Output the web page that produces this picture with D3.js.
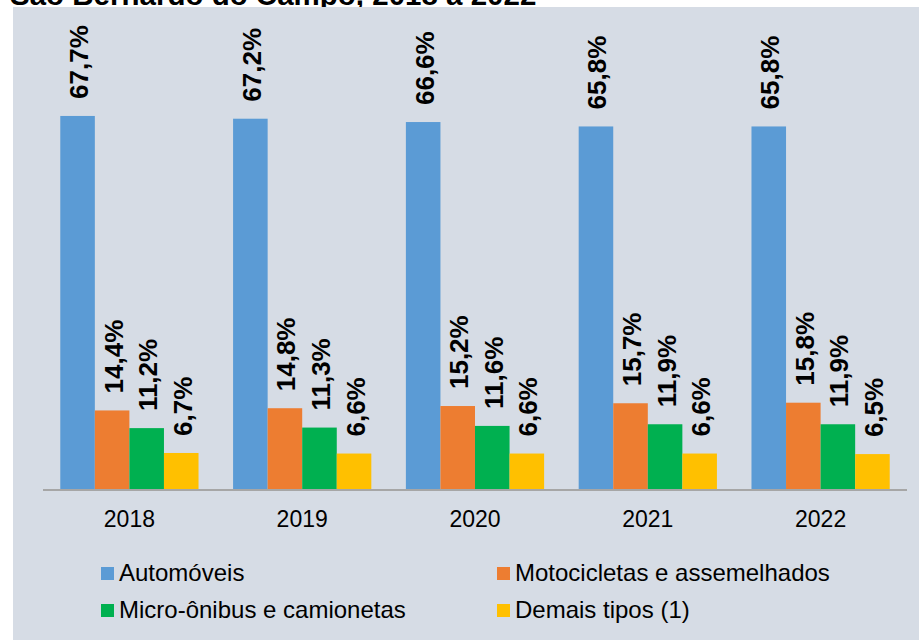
<!DOCTYPE html>
<html>
<head>
<meta charset="utf-8">
<script src="https://cdn.jsdelivr.net/npm/d3@7"></script>
<style>
  html, body { margin: 0; padding: 0; background: #ffffff; }
  svg { display: block; font-family: "Liberation Sans", Arial, Helvetica, sans-serif; }
</style>
</head>
<body>
<svg id="chart" width="919" height="640"></svg>
<script>
// Vehicle fleet share by type, São Bernardo do Campo
const years = ["2018", "2019", "2020", "2021", "2022"];
const seriesNames = ["Automóveis", "Motocicletas e assemelhados", "Micro-ônibus e camionetas", "Demais tipos (1)"];
const automoveis = [67.7, 67.2, 66.6, 65.8, 65.8];
const motocicletas = [14.4, 14.8, 15.2, 15.7, 15.8];
const microOnibus = [11.2, 11.3, 11.6, 11.9, 11.9];
const demais = [6.7, 6.6, 6.6, 6.6, 6.5];
const seriesColors = ["#5b9bd5", "#ed7d31", "#00b050", "#ffc000"];
const titleText = "São Bernardo do Campo, 2018 a 2022";

const seriesValues = [automoveis, motocicletas, microOnibus, demais];
const rows = years.map((y, i) => ({
  year: y,
  values: seriesNames.map((name, s) => ({ name, s, v: seriesValues[s][i] }))
}));

const svg = d3.select("#chart");
const fmt = v => d3.format(".1f")(v).replace(".", ",") + "%";

// Title (partly hidden behind the panel)
svg.append("text")
  .attr("x", 10).attr("y", 4.5)
  .attr("font-size", 29.5).attr("font-weight", "bold")
  .attr("fill", "#000")
  .text(titleText);

// Chart panel
svg.append("rect")
  .attr("x", 13).attr("y", 7)
  .attr("width", 906).attr("height", 633)
  .attr("fill", "#d6dce5");

const x0 = d3.scaleBand().domain(years).range([43, 907]).paddingInner(0.2).paddingOuter(0.1);
const x1 = d3.scaleBand().domain(seriesNames).range([0, x0.bandwidth()]);
const y = d3.scaleLinear().domain([0, 80]).range([490, 48]);
const color = d3.scaleOrdinal().domain(seriesNames).range(seriesColors);

const groups = svg.append("g").selectAll("g")
  .data(rows).join("g")
  .attr("transform", d => `translate(${x0(d.year)},0)`);

groups.selectAll("rect")
  .data(d => d.values).join("rect")
  .attr("x", d => x1(d.name))
  .attr("y", d => y(d.v))
  .attr("width", x1.bandwidth())
  .attr("height", d => y(0) - y(d.v))
  .attr("fill", d => color(d.name));

// Rotated value labels above each bar
groups.selectAll("text.val")
  .data(d => d.values).join("text")
  .attr("class", "val")
  .attr("transform", d => `translate(${x1(d.name) + x1.bandwidth() / 2 + 10.5},${y(d.v) - 17}) rotate(-90)`)
  .attr("text-anchor", "start")
  .attr("font-size", 26).attr("font-weight", "bold")
  .attr("fill", "#000")
  .text(d => fmt(d.v));

// Category axis
const xAxis = svg.append("g").attr("transform", "translate(0,490)")
  .call(d3.axisBottom(x0).tickSize(0).tickPadding(0));
xAxis.select(".domain").remove();
xAxis.append("line")
  .attr("x1", 43).attr("x2", 907).attr("y1", 0).attr("y2", 0)
  .attr("stroke", "#a6a6a6").attr("stroke-width", 2);
xAxis.selectAll(".tick text")
  .attr("y", 37).attr("dy", null)
  .attr("font-size", 23).attr("fill", "#000")
  .attr("font-family", "\"Liberation Sans\", Arial, sans-serif");

// Legend
const legendPos = [[101, 581], [497, 581], [101, 618], [497, 618]];
const legend = svg.append("g").selectAll("g")
  .data(seriesNames).join("g")
  .attr("transform", (d, i) => `translate(${legendPos[i][0]},${legendPos[i][1]})`);
legend.append("rect")
  .attr("x", 0).attr("y", -14).attr("width", 13).attr("height", 13)
  .attr("fill", d => color(d));
legend.append("text")
  .attr("x", 18).attr("y", 0)
  .attr("font-size", 24).attr("fill", "#000")
  .text(d => d);
</script>
</body>
</html>
